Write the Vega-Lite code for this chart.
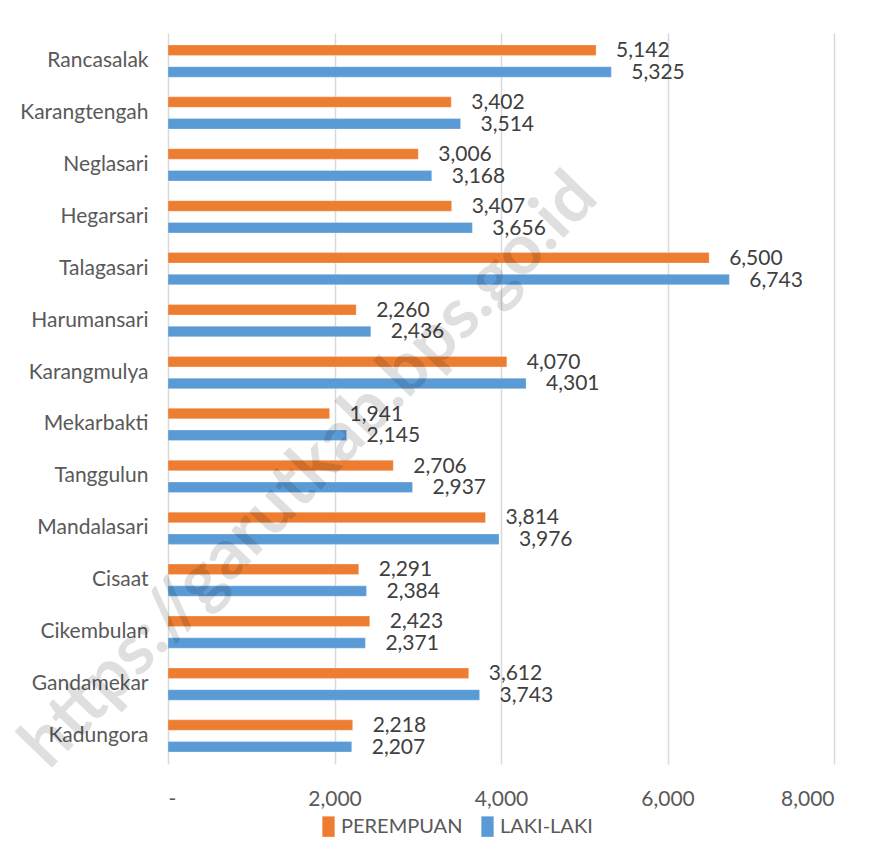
{
  "$schema": "https://vega.github.io/schema/vega-lite/v6.json",
  "autosize": {"type": "none"},
  "width": 666,
  "height": 731,
  "padding": {"left": 168, "top": 33, "right": 58, "bottom": 100},
  "background": "white",
  "config": {
    "font": "Lato",
    "view": {"stroke": null},
    "axis": {"labelFont": "Lato", "labelColor": "#595959", "labelFontSize": 21}
  },
  "datasets": {
    "pop": [
      {"kec": "Rancasalak", "jk": "PEREMPUAN", "v": 5142},
      {"kec": "Rancasalak", "jk": "LAKI-LAKI", "v": 5325},
      {"kec": "Karangtengah", "jk": "PEREMPUAN", "v": 3402},
      {"kec": "Karangtengah", "jk": "LAKI-LAKI", "v": 3514},
      {"kec": "Neglasari", "jk": "PEREMPUAN", "v": 3006},
      {"kec": "Neglasari", "jk": "LAKI-LAKI", "v": 3168},
      {"kec": "Hegarsari", "jk": "PEREMPUAN", "v": 3407},
      {"kec": "Hegarsari", "jk": "LAKI-LAKI", "v": 3656},
      {"kec": "Talagasari", "jk": "PEREMPUAN", "v": 6500},
      {"kec": "Talagasari", "jk": "LAKI-LAKI", "v": 6743},
      {"kec": "Harumansari", "jk": "PEREMPUAN", "v": 2260},
      {"kec": "Harumansari", "jk": "LAKI-LAKI", "v": 2436},
      {"kec": "Karangmulya", "jk": "PEREMPUAN", "v": 4070},
      {"kec": "Karangmulya", "jk": "LAKI-LAKI", "v": 4301},
      {"kec": "Mekarbakti", "jk": "PEREMPUAN", "v": 1941},
      {"kec": "Mekarbakti", "jk": "LAKI-LAKI", "v": 2145},
      {"kec": "Tanggulun", "jk": "PEREMPUAN", "v": 2706},
      {"kec": "Tanggulun", "jk": "LAKI-LAKI", "v": 2937},
      {"kec": "Mandalasari", "jk": "PEREMPUAN", "v": 3814},
      {"kec": "Mandalasari", "jk": "LAKI-LAKI", "v": 3976},
      {"kec": "Cisaat", "jk": "PEREMPUAN", "v": 2291},
      {"kec": "Cisaat", "jk": "LAKI-LAKI", "v": 2384},
      {"kec": "Cikembulan", "jk": "PEREMPUAN", "v": 2423},
      {"kec": "Cikembulan", "jk": "LAKI-LAKI", "v": 2371},
      {"kec": "Gandamekar", "jk": "PEREMPUAN", "v": 3612},
      {"kec": "Gandamekar", "jk": "LAKI-LAKI", "v": 3743},
      {"kec": "Kadungora", "jk": "PEREMPUAN", "v": 2218},
      {"kec": "Kadungora", "jk": "LAKI-LAKI", "v": 2207}
    ],
    "wm": [{"kec": "Tanggulun", "v": 1770, "t": "https://garutkab.bps.go.id"}]
  },
  "layer": [
    {
      "data": {"name": "pop"},
      "mark": {"type": "bar", "stroke": "white", "strokeOpacity": 0.5, "strokeWidth": 0.5},
      "encoding": {
        "y": {
          "field": "kec", "type": "nominal", "sort": null,
          "scale": {"paddingInner": 0.38, "paddingOuter": 0.23},
          "axis": {"title": null, "ticks": false, "domain": false, "labelPadding": 20, "labelFontSize": 21}
        },
        "yOffset": {
          "field": "jk", "type": "nominal",
          "scale": {"domain": ["PEREMPUAN", "LAKI-LAKI"], "paddingInner": 0.52, "paddingOuter": 0}
        },
        "x": {
          "field": "v", "type": "quantitative",
          "scale": {"domain": [0, 8000], "nice": false},
          "axis": {
            "title": null, "values": [0, 2000, 4000, 6000, 8000],
            "labelExpr": "datum.value == 0 ? '-' : format(datum.value, ',')",
            "domain": false, "ticks": false, "labelPadding": 24,
            "grid": true, "gridColor": "#d9d9d9", "gridWidth": 1.5
          }
        },
        "color": {
          "field": "jk", "type": "nominal",
          "scale": {"domain": ["PEREMPUAN", "LAKI-LAKI"], "range": ["#ED7D31", "#5B9BD5"]},
          "legend": {
            "title": null, "orient": "none", "direction": "horizontal",
            "legendX": 150, "legendY": 783,
            "symbolType": "M-0.6,-1H0.6V1H-0.6Z", "symbolSize": 420,
            "symbolStrokeWidth": 0, "symbolOpacity": 1,
            "labelFont": "Lato", "labelFontSize": 20, "labelColor": "#595959",
            "columnPadding": 14, "labelOffset": 2
          }
        }
      }
    },
    {
      "data": {"name": "pop"},
      "mark": {"type": "text", "align": "left", "baseline": "middle", "dx": 20, "dy": 1, "fontSize": 21, "color": "#404040", "font": "Lato"},
      "encoding": {
        "y": {"field": "kec", "type": "nominal", "sort": null},
        "yOffset": {"field": "jk", "type": "nominal"},
        "x": {"field": "v", "type": "quantitative"},
        "text": {"field": "v", "type": "quantitative", "format": ","}
      }
    },
    {
      "data": {"name": "wm"},
      "mark": {"type": "text", "align": "center", "baseline": "middle", "angle": -46, "fontSize": 70, "fontWeight": "bold", "font": "Lato", "color": "#000000", "opacity": 0.12, "dy": -8},
      "encoding": {
        "y": {"field": "kec", "type": "nominal", "sort": null},
        "x": {"field": "v", "type": "quantitative"},
        "text": {"field": "t", "type": "nominal"}
      }
    }
  ]
}
